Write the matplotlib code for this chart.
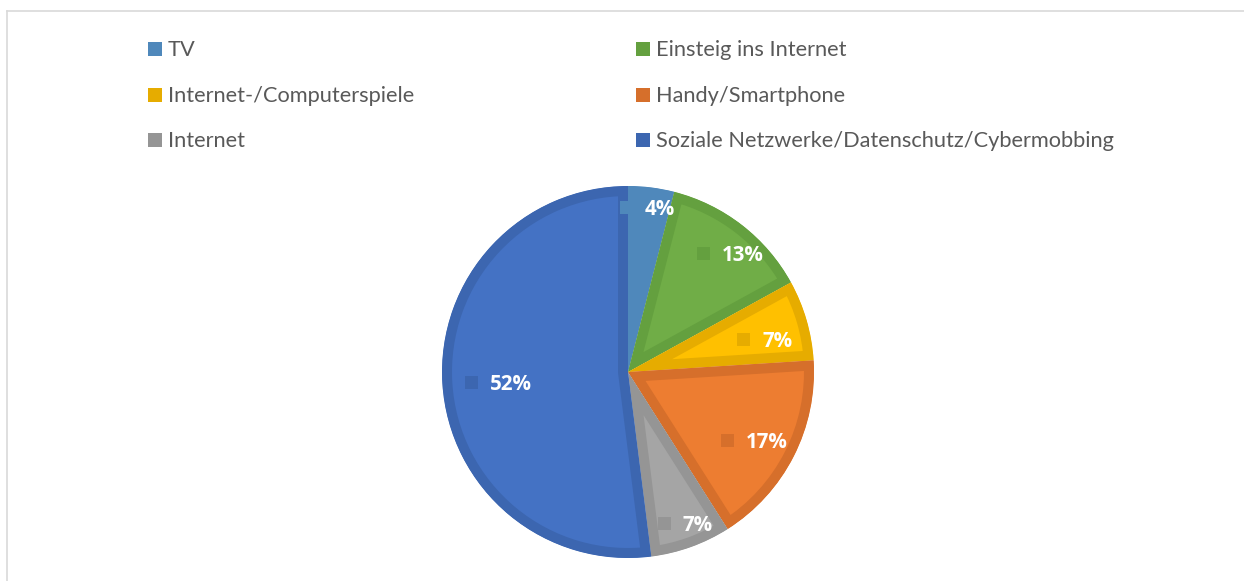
import matplotlib
matplotlib.use('Agg')
import matplotlib.pyplot as plt
from matplotlib.lines import Line2D
from matplotlib.patches import Rectangle
import numpy as np

# ---- data ----
categories = ['TV', 'Einsteig ins Internet', 'Internet-/Computerspiele',
              'Handy/Smartphone', 'Internet',
              'Soziale Netzwerke/Datenschutz/Cybermobbing']
values = [4, 13, 7, 17, 7, 52]
pct_labels = ['4%', '13%', '7%', '17%', '7%', '52%']

# ---- style ----
fill_colors = ['#4F88BB', '#70AD47', '#FFC000', '#ED7D31', '#A5A5A5', '#4472C4']
edge_colors = ['#4F88BB', '#64A03F', '#E6AC00', '#D66F2B', '#959595', '#3C66B0']
label_radius = [0.888, 0.839, 0.756, 0.770, 0.873, 0.701]
label_angle_shift = [-0.4, 3.0, 3.0, 1.4, -0.8, -1.2]
FONT = 'Lato'
LABEL_FONT = 'Open Sans'

W, H = 1244, 581
fig = plt.figure(figsize=(W / 100, H / 100), dpi=100)
fig.patch.set_facecolor('white')


def fx(x):
    return x / W


def fy(y):
    return 1 - y / H


# chart frame (top and left edges visible)
fig.add_artist(Line2D([fx(7), fx(W + 5)], [fy(10.5), fy(10.5)], color='#D9D9D9', lw=1.2))
fig.add_artist(Line2D([fx(7), fx(7)], [fy(10.5), fy(H + 5)], color='#D9D9D9', lw=1.2))

# ---- pie ----
cx, cy, r = 628, 372, 186
ax = fig.add_axes([fx(cx - r), fy(cy + r), 2 * r / W, 2 * r / H])
wedges, _ = ax.pie(values, colors=fill_colors, startangle=90, counterclock=False,
                   radius=1, wedgeprops=dict(linewidth=14.4, joinstyle='miter'))
for w, ec in zip(wedges, edge_colors):
    w.set_edgecolor(ec)
    w.set_clip_path(w)
    w.set_clip_on(True)
ax.set_xlim(-1, 1)
ax.set_ylim(-1, 1)
ax.set_aspect('equal')
ax.axis('off')

fig.canvas.draw()
renderer = fig.canvas.get_renderer()

total = float(sum(values))
cum = 0.0
ms = 13 / r
gap = 12 / r
for i, v in enumerate(values):
    theta = np.deg2rad(360 * (cum + v / 2) / total + label_angle_shift[i])
    cum += v
    t = ax.text(0, 0, pct_labels[i], color='white', fontsize=14.8, fontweight='bold',
                family=LABEL_FONT, ha='left', va='baseline', zorder=4)
    bb = t.get_window_extent(renderer)
    tw = bb.width / r
    gx = label_radius[i] * np.sin(theta)
    gy = label_radius[i] * np.cos(theta)
    left = gx - (ms + gap + tw) / 2
    ax.add_patch(Rectangle((left, gy - ms / 2), ms, ms, facecolor=edge_colors[i],
                           edgecolor='none', zorder=3, clip_on=False))
    t.set_position((left + ms + gap, gy - 7.5 / r))

# ---- legend (two columns, row-wise order) ----
col_x = [148, 636]
row_base = [56, 101.5, 147]
sq = 14
for i, name in enumerate(categories):
    row, col = i // 2, i % 2
    x0 = col_x[col]
    base = row_base[row]
    fig.add_artist(Rectangle((fx(x0), fy(base)), sq / W, sq / H, facecolor=edge_colors[i],
                             edgecolor='none', transform=fig.transFigure))
    fig.text(fx(x0 + sq + 6), fy(base), name, fontsize=15.7, family=FONT,
             color='#595959', ha='left', va='baseline')

fig.savefig('out.png', dpi=100)
